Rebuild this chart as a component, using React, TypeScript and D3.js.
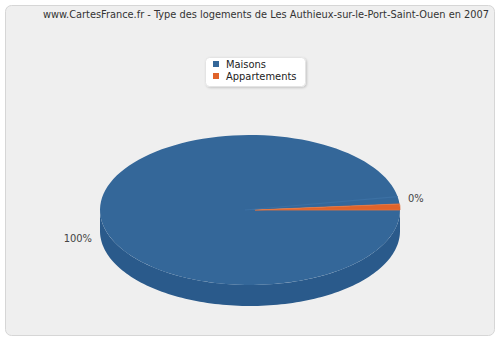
import React from "react";
import * as d3 from "d3";

const title = "www.CartesFrance.fr - Type des logements de Les Authieux-sur-le-Port-Saint-Ouen en 2007";
const categories = ["Maisons", "Appartements"];
const values = [230, 3];
const valueLabels = ["100%", "0%"];
const colors = ["#346799", "#e0632a"];
const sideColors = ["#2a5a8b", "#b24d1f"];

const W = 500, H = 340;
const cx = 250, cy = 210, rx = 150, ry = 75, depth = 21;
const FONT = "'DejaVu Sans Condensed', 'DejaVu Sans', Verdana, sans-serif";

function pt(a: number, dy = 0, x0 = cx): [number, number] {
  return [x0 + rx * Math.cos(a), cy - ry * Math.sin(a) + dy];
}

function arcPts(a0: number, a1: number, dy = 0, n = 120): [number, number][] {
  const out: [number, number][] = [];
  for (let i = 0; i <= n; i++) out.push(pt(a0 + ((a1 - a0) * i) / n, dy));
  return out;
}

export default function App() {
  const arcs = d3.pie<number>().sort(null).startAngle(0).endAngle(2 * Math.PI)([values[1], values[0]]);
  const slices = [
    { a0: arcs[1].startAngle, a1: arcs[1].endAngle, i: 0 },
    { a0: arcs[0].startAngle, a1: arcs[0].endAngle, i: 1 },
  ];
  const line = d3.line<[number, number]>();

  const sideTop = arcPts(Math.PI, 2 * Math.PI, 0);
  const sideBot = arcPts(2 * Math.PI, Math.PI, depth);
  const sidePath = line([...sideTop, ...sideBot]) + "Z";
  const small = slices[1].a1;

  return (
    <svg width={W} height={H} style={{ position: "absolute", left: 0, top: 0 }} fontFamily={FONT}>
      <defs>
        <filter id="sh" x="-20%" y="-20%" width="140%" height="160%">
          <feDropShadow dx="1" dy="1" stdDeviation="1.2" floodColor="#000" floodOpacity="0.18" />
        </filter>
      </defs>
      <rect x={0} y={0} width={W} height={H} fill="#ffffff" />
      <rect x={5.5} y={5.5} width={489} height={330} rx={6} fill="#efefef" stroke="#d6d6d6" />
      <text x={489} y={18} textAnchor="end" fontSize={11} fill="#333" textLength={446} lengthAdjust="spacingAndGlyphs">{title}</text>

      <g filter="url(#sh)">
        <rect x={205.5} y={57.5} width={100} height={29} rx={4} fill="#fff" stroke="#e4e4e4" />
      </g>
      {categories.map((c, i) => (
        <g key={c}>
          <rect x={213} y={61 + i * 12} width={6} height={6} fill={colors[i]} />
          <text x={226} y={67.5 + i * 12} fontSize={11} fill="#222">{c}</text>
        </g>
      ))}

      <path d={sidePath} fill={sideColors[0]} />
      {slices.map((s) => {
        const pts: [number, number][] = [[s.i === 1 ? cx + 5 : cx, cy], ...arcPts(s.a0, s.a1)];
        return (
          <path key={s.i} d={line(pts) + "Z"} fill={colors[s.i]}
            stroke={s.i === 1 ? "#e8733a" : "none"} strokeWidth={0.8} />
        );
      })}
      <path d={line([[cx - 5, cy], pt(small * 2.2)])!} stroke="#3c70a3" strokeWidth={1.2} fill="none" />

      <text x={92} y={242} textAnchor="end" fontSize={11} fill="#444">{valueLabels[0]}</text>
      <text x={408} y={202} textAnchor="start" fontSize={11} fill="#444">{valueLabels[1]}</text>
    </svg>
  );
}
